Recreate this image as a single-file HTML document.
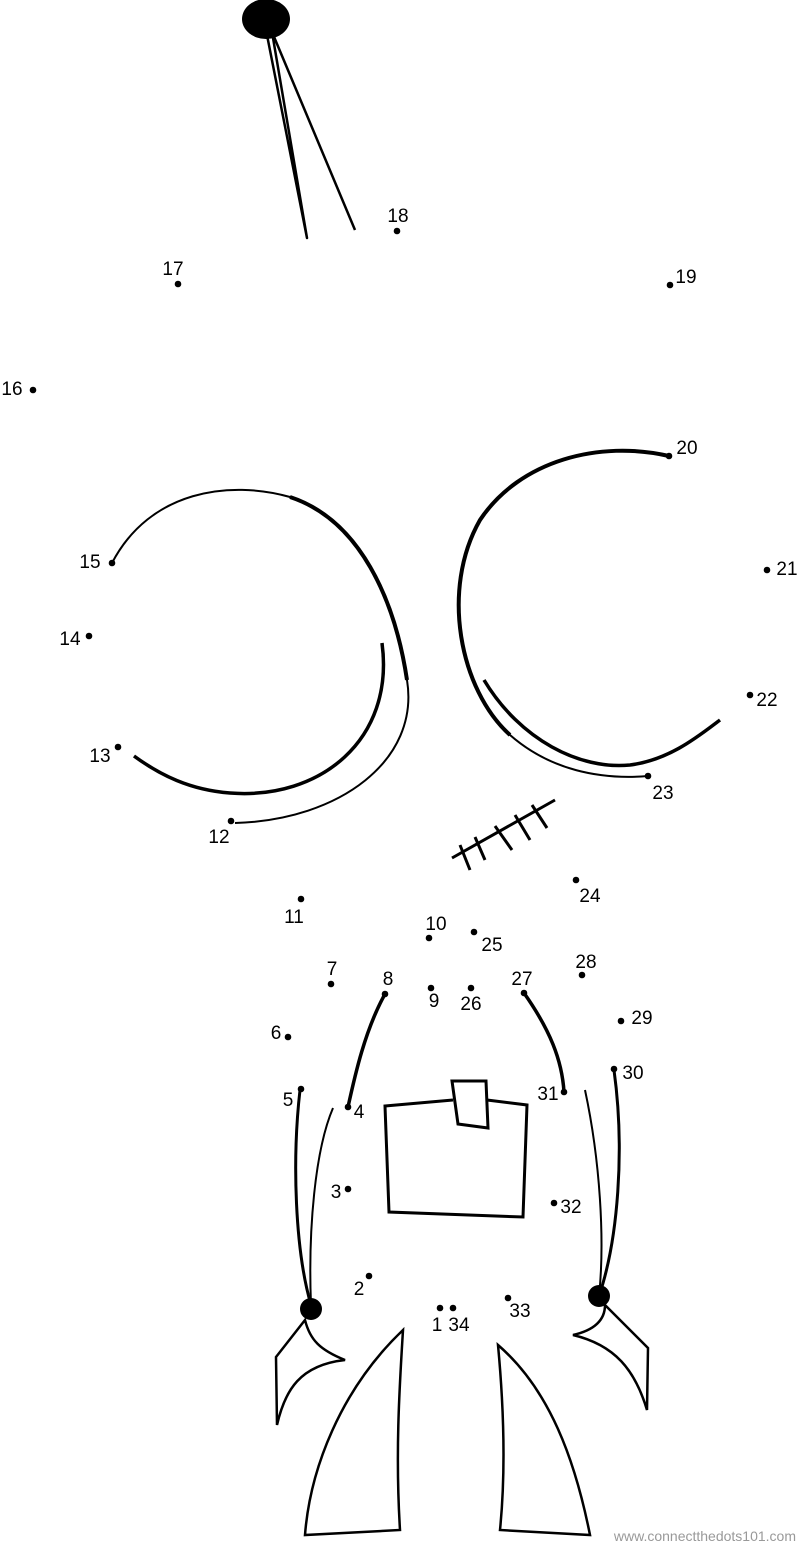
<!DOCTYPE html>
<html><head><meta charset="utf-8"><style>
html,body{margin:0;padding:0;background:#fff;}
svg{display:block;}
text{font-family:"Liberation Sans",sans-serif;font-size:19px;fill:#000;}
.s{fill:none;stroke:#000;}
</style></head><body>
<svg width="800" height="1546" viewBox="0 0 800 1546" xmlns="http://www.w3.org/2000/svg">
<ellipse cx="266" cy="19" rx="24" ry="20" fill="#000"/>
<path d="M266 30 L307 238 L272 32 L355 230" class="s" stroke-width="2.5" stroke-linejoin="round"/>
<path d="M112 563 C150 490 230 480 290 497 C360 520 395 600 407 680 C420 760 340 820 235 823" class="s" stroke-width="2"/>
<path d="M290 497 C360 520 395 600 407 680" class="s" stroke-width="4"/>
<path d="M382 643 C395 740 320 800 230 793 C190 790 160 775 134 756" class="s" stroke-width="3.5"/>
<path d="M669 456 C600 440 520 460 480 520 C440 590 460 690 510 735 C550 770 600 780 648 776" class="s" stroke-width="2"/>
<path d="M669 456 C600 440 520 460 480 520 C440 590 460 690 510 735" class="s" stroke-width="4"/>
<path d="M484 680 C520 740 580 770 630 765 C670 760 700 735 720 720" class="s" stroke-width="3.5"/>
<path d="M452 858 L555 800" class="s" stroke-width="3"/>
<path d="M460 845 L470 870 M475 837 L485 860 M495 826 L512 850 M515 815 L530 840 M532 805 L547 828" class="s" stroke-width="3"/>
<path d="M385 994 C365 1030 355 1075 348 1107" class="s" stroke-width="3.5"/>
<path d="M524 993 C550 1030 562 1060 564 1092" class="s" stroke-width="3.5"/>
<path d="M300 1090 C292 1160 295 1250 311 1305" class="s" stroke-width="3"/>
<path d="M333 1108 C315 1150 308 1230 311 1305" class="s" stroke-width="2"/>
<path d="M614 1070 C625 1150 618 1240 599 1296" class="s" stroke-width="3"/>
<path d="M585 1090 C600 1160 605 1240 599 1296" class="s" stroke-width="2"/>
<circle cx="311" cy="1309" r="11" fill="#000"/>
<circle cx="599" cy="1296" r="11" fill="#000"/>
<path d="M305 1320 L276 1357 L277 1425 C285 1390 300 1365 345 1360 C320 1350 310 1340 305 1320 Z" class="s" stroke-width="2.5"/>
<path d="M605 1305 L648 1348 L647 1410 C635 1370 615 1345 573 1335 C595 1330 605 1320 605 1305 Z" class="s" stroke-width="2.5"/>
<path d="M453 1100 L385 1106 L389 1212 L523 1217 L527 1105 L487 1100" class="s" stroke-width="3"/>
<path d="M452 1081 L486 1081 L488 1128 L458 1124 Z" class="s" stroke-width="3"/>
<path d="M403 1330 C340 1390 310 1470 305 1535 L400 1530 C395 1450 400 1380 403 1330 Z" class="s" stroke-width="2.5"/>
<path d="M498 1345 C505 1420 505 1480 500 1530 L590 1535 C575 1460 550 1390 498 1345 Z" class="s" stroke-width="2.5"/>
<g fill="#000">
<circle cx="440" cy="1308" r="3.3"/><circle cx="453" cy="1308" r="3.3"/>
<circle cx="369" cy="1276" r="3.3"/><circle cx="348" cy="1189" r="3.3"/>
<circle cx="348" cy="1107" r="3.3"/><circle cx="301" cy="1089" r="3.3"/>
<circle cx="288" cy="1037" r="3.3"/><circle cx="331" cy="984" r="3.3"/>
<circle cx="385" cy="994" r="3.3"/><circle cx="431" cy="988" r="3.3"/>
<circle cx="429" cy="938" r="3.3"/><circle cx="301" cy="899" r="3.3"/>
<circle cx="231" cy="821" r="3.3"/><circle cx="118" cy="747" r="3.3"/>
<circle cx="89" cy="636" r="3.3"/><circle cx="112" cy="563" r="3.3"/>
<circle cx="33" cy="390" r="3.3"/><circle cx="178" cy="284" r="3.3"/>
<circle cx="397" cy="231" r="3.3"/><circle cx="670" cy="285" r="3.3"/>
<circle cx="669" cy="456" r="3.3"/><circle cx="767" cy="570" r="3.3"/>
<circle cx="750" cy="695" r="3.3"/><circle cx="648" cy="776" r="3.3"/>
<circle cx="576" cy="880" r="3.3"/><circle cx="474" cy="932" r="3.3"/>
<circle cx="471" cy="988" r="3.3"/><circle cx="524" cy="993" r="3.3"/>
<circle cx="582" cy="975" r="3.3"/><circle cx="621" cy="1021" r="3.3"/>
<circle cx="614" cy="1069" r="3.3"/><circle cx="564" cy="1092" r="3.3"/>
<circle cx="554" cy="1203" r="3.3"/><circle cx="508" cy="1298" r="3.3"/>
</g>
<g text-anchor="middle">
<text x="437" y="1331">1</text><text x="459" y="1331">34</text>
<text x="359" y="1295">2</text><text x="336" y="1198">3</text>
<text x="359" y="1118">4</text><text x="288" y="1106">5</text>
<text x="276" y="1039">6</text><text x="332" y="975">7</text>
<text x="388" y="985">8</text><text x="434" y="1007">9</text>
<text x="436" y="930">10</text><text x="294" y="923">11</text>
<text x="219" y="843">12</text><text x="100" y="762">13</text>
<text x="70" y="645">14</text><text x="90" y="568">15</text>
<text x="12" y="395">16</text><text x="173" y="275">17</text>
<text x="398" y="222">18</text><text x="686" y="283">19</text>
<text x="687" y="454">20</text><text x="787" y="575">21</text>
<text x="767" y="706">22</text><text x="663" y="799">23</text>
<text x="590" y="902">24</text><text x="492" y="951">25</text>
<text x="471" y="1010">26</text><text x="522" y="985">27</text>
<text x="586" y="968">28</text><text x="642" y="1024">29</text>
<text x="633" y="1079">30</text><text x="548" y="1100">31</text>
<text x="571" y="1213">32</text><text x="520" y="1317">33</text>
</g>
<text x="796" y="1541" text-anchor="end" style="font-size:14px;fill:#999;">www.connectthedots101.com</text>
</svg>
</body></html>
